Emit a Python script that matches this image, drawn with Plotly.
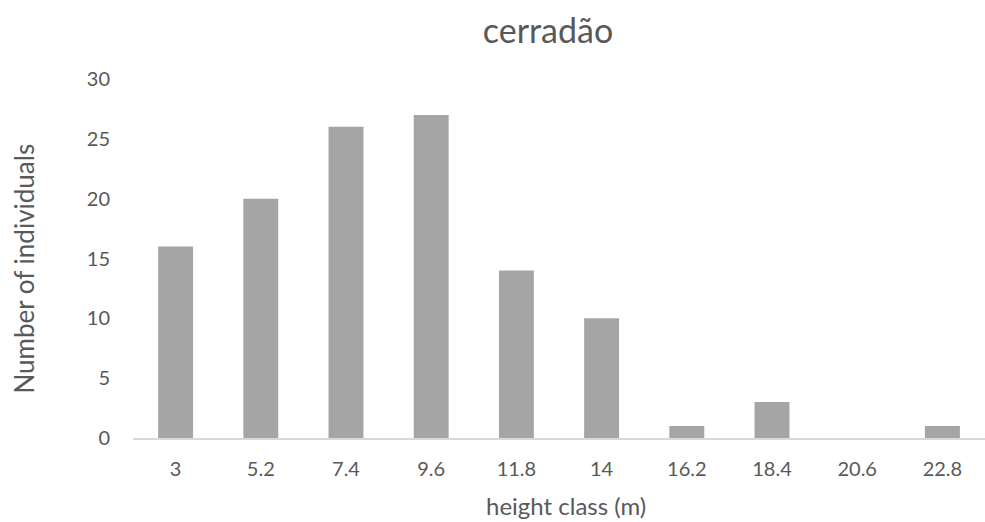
import plotly.graph_objects as go

categories = ["3", "5.2", "7.4", "9.6", "11.8", "14", "16.2", "18.4", "20.6", "22.8"]
counts = [16, 20, 26, 27, 14, 10, 1, 3, 0, 1]
y_ticks = [0, 5, 10, 15, 20, 25, 30]

font_family = "Lato, 'Open Sans', sans-serif"
text_color = "#595959"

fig = go.Figure(go.Bar(
    x=categories, y=counts, marker=dict(color="#A5A5A5", line=dict(width=0)),
))

W, H = 985, 522
ml, mr, mt, mb = 133, 0, 79, 84

fig.update_layout(
    width=W, height=H,
    margin=dict(l=ml, r=mr, t=mt, b=mb, autoexpand=False),
    paper_bgcolor="white", plot_bgcolor="white",
    bargap=0.59,
    showlegend=False,
    title=dict(text="cerradão", x=548 / W, xanchor="center", y=1 - 31 / H, yanchor="middle",
               font=dict(family=font_family, size=34, color=text_color)),
    font=dict(family=font_family, color=text_color, size=20),
    annotations=[
        dict(text="height class (m)", xref="paper", yref="paper",
             x=(566 - ml) / (W - ml - mr), y=0, yshift=-(505 - (H - mb)),
             xanchor="center", yanchor="middle", showarrow=False,
             font=dict(family=font_family, size=24, color=text_color)),
        dict(text="Number of individuals", xref="paper", yref="paper",
             x=0, xshift=-(ml - 23), y=0.5, yshift=-10,
             xanchor="center", yanchor="middle", showarrow=False, textangle=-90,
             font=dict(family=font_family, size=26, color=text_color)),
    ],
)
fig.update_xaxes(
    type="category", showgrid=False, showline=True, linecolor="#D9D9D9", linewidth=2,
    ticks="", tickfont=dict(size=20, color=text_color), ticklabelstandoff=12,
    automargin=False,
)
fig.update_yaxes(
    range=[0, 30], tickvals=y_ticks, showgrid=False, zeroline=False, showline=False,
    ticks="", tickfont=dict(size=20, color=text_color), ticklabelstandoff=22,
    automargin=False,
)

fig.write_html("out.html", config={"displayModeBar": False},
               post_script="document.body.style.margin='0';document.body.style.overflow='hidden';")
